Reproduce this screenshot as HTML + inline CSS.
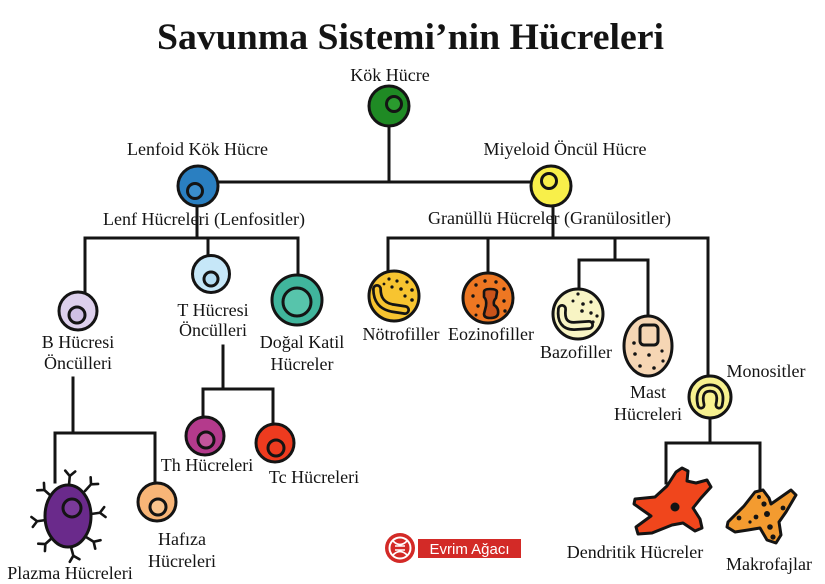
<!DOCTYPE html>
<html>
<head>
<meta charset="utf-8">
<style>
  html, body { margin:0; padding:0; background:#ffffff; }
  svg { display:block; }
  text { font-family: "Liberation Serif", "DejaVu Serif", serif; fill:#141414; }
</style>
</head>
<body>
<svg width="825" height="584" viewBox="0 0 825 584" xmlns="http://www.w3.org/2000/svg">
  <rect width="825" height="584" fill="#ffffff"/>

  <!-- Title -->
  <text x="410.5" y="49" font-size="37" font-weight="bold" text-anchor="middle" textLength="507" lengthAdjust="spacingAndGlyphs">Savunma Sistemi’nin Hücreleri</text>

  <!-- Connectors -->
  <g stroke="#141414" stroke-width="3" fill="none" stroke-linecap="square">
    <line x1="389" y1="126" x2="389" y2="182"/>
    <line x1="218" y1="182" x2="531" y2="182"/>
    <!-- lymphoid -->
    <line x1="197" y1="206" x2="197" y2="238"/>
    <line x1="85" y1="238" x2="298" y2="238"/>
    <line x1="85" y1="238" x2="85" y2="292"/>
    <line x1="208" y1="238" x2="208" y2="256"/>
    <line x1="298" y1="238" x2="298" y2="275"/>
    <!-- B -->
    <line x1="73" y1="378" x2="73" y2="433"/>
    <line x1="55" y1="433" x2="155" y2="433"/>
    <line x1="55" y1="433" x2="55" y2="482"/>
    <line x1="155" y1="433" x2="155" y2="483"/>
    <!-- T -->
    <line x1="223" y1="346" x2="223" y2="389"/>
    <line x1="203" y1="389" x2="273" y2="389"/>
    <line x1="203" y1="389" x2="203" y2="417"/>
    <line x1="273" y1="389" x2="273" y2="424"/>
    <!-- myeloid -->
    <line x1="553" y1="206" x2="553" y2="238"/>
    <line x1="388" y1="238" x2="708" y2="238"/>
    <line x1="388" y1="238" x2="388" y2="271"/>
    <line x1="488" y1="238" x2="488" y2="272"/>
    <line x1="615" y1="238" x2="615" y2="260"/>
    <line x1="579" y1="260" x2="648" y2="260"/>
    <line x1="579" y1="260" x2="579" y2="290"/>
    <line x1="648" y1="260" x2="648" y2="316"/>
    <line x1="708" y1="238" x2="708" y2="377"/>
    <!-- monocyte -->
    <line x1="710" y1="418" x2="710" y2="443"/>
    <line x1="666" y1="443" x2="760" y2="443"/>
    <line x1="666" y1="443" x2="666" y2="483"/>
    <line x1="760" y1="443" x2="760" y2="490"/>
  </g>

  <!-- Simple round cells -->
  <g stroke="#141414" stroke-width="3">
    <!-- Kök Hücre green -->
    <circle cx="389" cy="106" r="20" fill="#1f8a24"/>
    <circle cx="394" cy="104" r="7.5" fill="#2a9a2e"/>
    <!-- Lenfoid blue -->
    <circle cx="198" cy="186" r="20" fill="#2a7fc1"/>
    <circle cx="195" cy="191" r="7.5" fill="#3a8dcc"/>
    <!-- Miyeloid yellow -->
    <circle cx="551" cy="186" r="20" fill="#f8ef4a"/>
    <circle cx="549" cy="181" r="7.5" fill="#f8ef4a"/>
    <!-- B lilac -->
    <circle cx="78" cy="311" r="19" fill="#ddd0ec"/>
    <circle cx="77" cy="315" r="8" fill="#cfc0e4"/>
    <!-- T light blue -->
    <circle cx="211" cy="274" r="18.5" fill="#c6e7f8"/>
    <circle cx="211" cy="279" r="7" fill="#b4ddf3"/>
    <!-- NK teal -->
    <circle cx="297" cy="300" r="25" fill="#40b59c"/>
    <circle cx="297" cy="302" r="14" fill="#57c4ab"/>
    <!-- Th magenta -->
    <circle cx="205" cy="436" r="19" fill="#b43a8c"/>
    <circle cx="206" cy="440" r="8" fill="#c2559c"/>
    <!-- Tc red -->
    <circle cx="275" cy="443" r="19" fill="#ee3b1f"/>
    <circle cx="276" cy="448" r="8" fill="#ee3b1f"/>
    <!-- Hafiza peach -->
    <circle cx="157" cy="502" r="19" fill="#f8b577"/>
    <circle cx="158" cy="507" r="8" fill="#fac48d"/>
  </g>

  <!-- Plasma cell -->
  <g stroke="#141414" stroke-width="2.6" fill="none" stroke-linecap="round">
    <g transform="translate(69,485) rotate(5)"><path d="M0 0 L0 -9 M0 -9 L-5 -14 M0 -9 L5 -14"/></g>
    <g transform="translate(85,491) rotate(42)"><path d="M0 0 L0 -9 M0 -9 L-5 -14 M0 -9 L5 -14"/></g>
    <g transform="translate(91,514) rotate(82)"><path d="M0 0 L0 -9 M0 -9 L-5 -14 M0 -9 L5 -14"/></g>
    <g transform="translate(86,537) rotate(122)"><path d="M0 0 L0 -9 M0 -9 L-5 -14 M0 -9 L5 -14"/></g>
    <g transform="translate(71,547) rotate(165)"><path d="M0 0 L0 -9 M0 -9 L-5 -14 M0 -9 L5 -14"/></g>
    <g transform="translate(52,538) rotate(228)"><path d="M0 0 L0 -9 M0 -9 L-5 -14 M0 -9 L5 -14"/></g>
    <g transform="translate(46,520) rotate(262)"><path d="M0 0 L0 -9 M0 -9 L-5 -14 M0 -9 L5 -14"/></g>
    <g transform="translate(51,496) rotate(312)"><path d="M0 0 L0 -9 M0 -9 L-5 -14 M0 -9 L5 -14"/></g>
  </g>
  <ellipse cx="68" cy="516" rx="23" ry="31" fill="#6a2a8b" stroke="#141414" stroke-width="3"/>
  <circle cx="72" cy="508" r="9" fill="#7a3a9a" stroke="#141414" stroke-width="3"/>

  <!-- Nötrofil -->
  <circle cx="394" cy="296" r="25" fill="#f7c430" stroke="#141414" stroke-width="3"/>
  <path d="M377 289 Q377 305 392 308 L405 310" fill="none" stroke="#141414" stroke-width="10" stroke-linecap="round" stroke-linejoin="round"/>
  <path d="M377 289 Q377 305 392 308 L405 310" fill="none" stroke="#f7c430" stroke-width="4.5" stroke-linecap="round" stroke-linejoin="round"/>
  <g fill="#141414">
    <circle cx="389" cy="279" r="1.6"/><circle cx="397" cy="281" r="1.6"/>
    <circle cx="392" cy="287" r="1.6"/><circle cx="401" cy="289" r="1.8"/>
    <circle cx="407" cy="282" r="1.6"/><circle cx="412" cy="290" r="1.8"/>
    <circle cx="405" cy="296" r="1.6"/><circle cx="412" cy="300" r="1.8"/>
    <circle cx="384" cy="284" r="1.4"/>
  </g>

  <!-- Eozinofil -->
  <circle cx="488" cy="298" r="25" fill="#ee7722" stroke="#141414" stroke-width="3"/>
  <path d="M484 292 Q484 289 490 289 Q497 289 497 292 L496 298 Q493 301 494 305 Q499 308 498 314 Q497 318 490 318 Q484 318 484 314 L486 306 Q487 300 484 297 Z" fill="#c9531a" stroke="#141414" stroke-width="2.6" stroke-linejoin="round"/>
  <g fill="#141414">
    <circle cx="476" cy="285" r="1.7"/><circle cx="485" cy="281" r="1.7"/>
    <circle cx="496" cy="282" r="1.7"/><circle cx="504" cy="289" r="1.7"/>
    <circle cx="473" cy="296" r="1.7"/><circle cx="478" cy="306" r="1.7"/>
    <circle cx="504" cy="301" r="1.7"/><circle cx="505" cy="311" r="1.7"/>
    <circle cx="476" cy="315" r="1.5"/>
  </g>

  <!-- Bazofil -->
  <circle cx="578" cy="314" r="25" fill="#f8f4c4" stroke="#141414" stroke-width="3"/>
  <path d="M562 309 Q560 326 574 326 L589 325" fill="none" stroke="#141414" stroke-width="10" stroke-linecap="round" stroke-linejoin="round"/>
  <path d="M562 309 Q560 326 574 326 L589 325" fill="none" stroke="#f8f4c4" stroke-width="4.5" stroke-linecap="round" stroke-linejoin="round"/>
  <g fill="#141414">
    <circle cx="578" cy="294" r="1.6"/><circle cx="573" cy="301" r="1.5"/>
    <circle cx="583" cy="304" r="1.8"/><circle cx="591" cy="302" r="1.6"/>
    <circle cx="582" cy="311" r="1.8"/><circle cx="591" cy="313" r="1.7"/>
    <circle cx="597" cy="316" r="1.6"/><circle cx="593" cy="322" r="1.6"/>
  </g>

  <!-- Mast -->
  <ellipse cx="648" cy="346" rx="24" ry="30" fill="#f6d6b4" stroke="#141414" stroke-width="3"/>
  <rect x="640" y="325" width="18" height="20" rx="4" fill="#f6d6b4" stroke="#141414" stroke-width="3"/>
  <g fill="#141414">
    <circle cx="634" cy="343" r="1.8"/><circle cx="635" cy="354" r="1.8"/>
    <circle cx="649" cy="355" r="1.8"/><circle cx="662" cy="351" r="1.6"/>
    <circle cx="640" cy="366" r="1.8"/><circle cx="654" cy="368" r="1.8"/>
    <circle cx="663" cy="361" r="1.6"/>
  </g>

  <!-- Monosit -->
  <circle cx="710" cy="397" r="21" fill="#f7f190" stroke="#141414" stroke-width="3"/>
  <path d="M701 405 C698 393 703 388 710 388 C717 388 722 393 719 405" fill="none" stroke="#141414" stroke-width="9" stroke-linecap="round"/>
  <path d="M701 405 C698 393 703 388 710 388 C717 388 722 393 719 405" fill="none" stroke="#f7f190" stroke-width="3.5" stroke-linecap="round"/>

  <!-- Dendritik -->
  <path d="M635 499 L655 497 L667 486 L676 472 L682 468 L688 471 L687 481 L696 483 L707 480 L711 487 L701 498 L693 508 L700 519 L702 528 L695 531 L683 523 L672 525 L652 533 L638 534 L636 527 L651 516 L641 509 L634 504 Z" fill="#f0461c" stroke="#141414" stroke-width="3" stroke-linejoin="round"/>
  <circle cx="675" cy="507" r="4.5" fill="#141414"/>

  <!-- Makrofaj -->
  <path d="M728 522 L744 506 L755 492 L763 490 L769 498 L771 504 L781 497 L791 490 L796 495 L786 512 L779 522 L781 535 L776 543 L767 540 L760 528 L748 530 L735 532 L727 527 Z" fill="#f39b30" stroke="#141414" stroke-width="3" stroke-linejoin="round"/>
  <g fill="#141414">
    <circle cx="764" cy="504" r="2.6"/><circle cx="756" cy="517" r="2.4"/>
    <circle cx="767" cy="514" r="3"/><circle cx="770" cy="527" r="2.8"/>
    <circle cx="773" cy="537" r="2.6"/><circle cx="739" cy="518" r="2.4"/>
    <circle cx="783" cy="508" r="2.4"/><circle cx="759" cy="497" r="2"/>
    <circle cx="750" cy="522" r="1.6"/>
  </g>

  <!-- Logo -->
  <circle cx="400" cy="548" r="15" fill="#d32a27"/>
  <circle cx="400" cy="548" r="10.5" fill="none" stroke="#ffffff" stroke-width="2"/>
  <path d="M393 541 Q400 548 407 541 M393 555 Q400 548 407 555 M395 546 L405 546 M395 550 L405 550" fill="none" stroke="#ffffff" stroke-width="1.6"/>
  <rect x="418" y="539" width="103" height="19" fill="#d32a27"/>
  <text x="469.5" y="554" font-family="Liberation Sans, sans-serif" font-size="15" text-anchor="middle" style="fill:#ffffff;font-family:'Liberation Sans',sans-serif;">Evrim Ağacı</text>

  <!-- Labels -->
  <g font-size="18" text-anchor="middle">
    <text x="390" y="81">Kök Hücre</text>
    <text x="197.5" y="155">Lenfoid Kök Hücre</text>
    <text x="565" y="155">Miyeloid Öncül Hücre</text>
    <text x="204" y="225">Lenf Hücreleri (Lenfositler)</text>
    <text x="549.5" y="224">Granüllü Hücreler (Granülositler)</text>

    <text x="78" y="348">B Hücresi</text>
    <text x="78" y="369">Öncülleri</text>
    <text x="213" y="316">T Hücresi</text>
    <text x="213" y="336">Öncülleri</text>
    <text x="302" y="348">Doğal Katil</text>
    <text x="302" y="370">Hücreler</text>

    <text x="401" y="340">Nötrofiller</text>
    <text x="491" y="340">Eozinofiller</text>
    <text x="576" y="358">Bazofiller</text>
    <text x="648" y="398">Mast</text>
    <text x="648" y="420">Hücreleri</text>
    <text x="766" y="377">Monositler</text>

    <text x="207" y="471">Th Hücreleri</text>
    <text x="314" y="483">Tc Hücreleri</text>
    <text x="182" y="545">Hafıza</text>
    <text x="182" y="567">Hücreleri</text>
    <text x="70" y="579">Plazma Hücreleri</text>
    <text x="635" y="558">Dendritik Hücreler</text>
    <text x="769" y="570">Makrofajlar</text>
  </g>
</svg>
</body>
</html>
